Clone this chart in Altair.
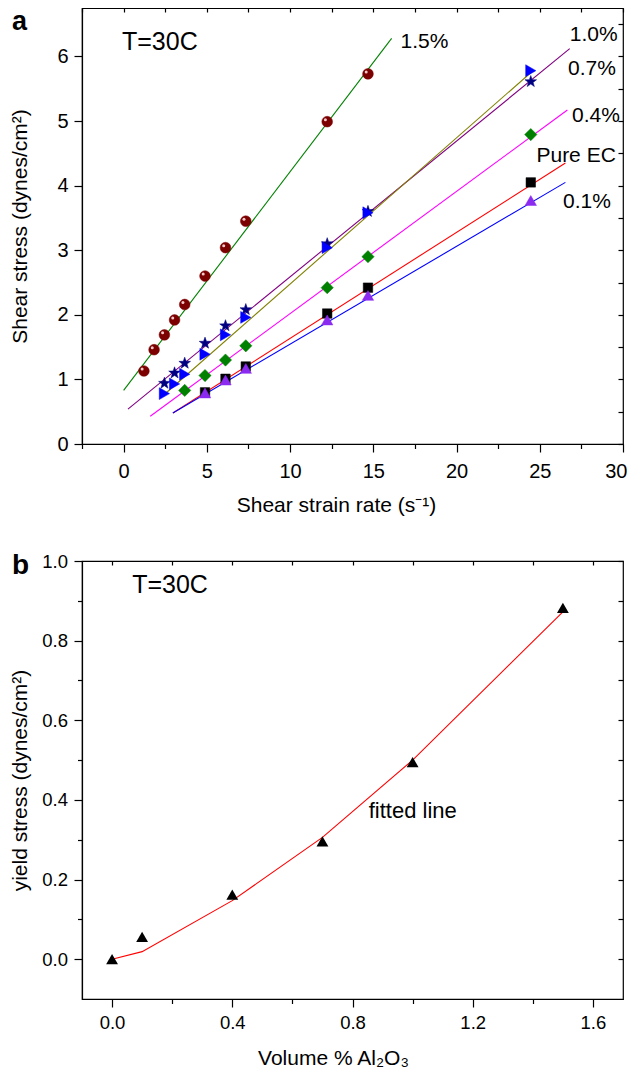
import altair as alt
import pandas as pd

FONT = "Liberation Sans"

# ---------------- panel a data ----------------
series = ["1.5%", "1.0%", "0.7%", "0.4%", "Pure EC", "0.1%"]

rate_15 = [1.22, 1.83, 2.45, 3.06, 3.67, 4.89, 6.12, 7.34, 12.23, 14.68]
stress_15 = [1.13, 1.46, 1.69, 1.92, 2.16, 2.60, 3.04, 3.45, 4.99, 5.73]
rate_10 = [2.45, 3.06, 3.67, 4.89, 6.12, 7.34, 12.23, 14.68, 24.46]
stress_10 = [0.94, 1.10, 1.25, 1.56, 1.83, 2.08, 3.10, 3.60, 5.61]
rate_07 = [2.45, 3.06, 3.67, 4.89, 6.12, 7.34, 12.23, 14.68, 24.46]
stress_07 = [0.78, 0.93, 1.08, 1.39, 1.69, 1.96, 3.04, 3.58, 5.78]
rate_04 = [3.67, 4.89, 6.12, 7.34, 12.23, 14.68, 24.46]
stress_04 = [0.83, 1.06, 1.30, 1.52, 2.42, 2.90, 4.79]
rate_00 = [4.89, 6.12, 7.34, 12.23, 14.68, 24.46]
stress_00 = [0.80, 1.01, 1.20, 2.02, 2.42, 4.05]
rate_01 = [4.89, 6.12, 7.34, 12.23, 14.68, 24.46]
stress_01 = [0.79, 0.99, 1.17, 1.92, 2.30, 3.77]

# fitted straight lines (end points)
fit_x0 = [0.0, 0.26, 2.46, 1.60, 2.96, 2.96]
fit_y0 = [0.83, 0.54, 0.77, 0.43, 0.48, 0.48]
fit_x1 = [16.1, 26.8, 24.64, 26.66, 26.54, 26.54]
fit_y1 = [6.28, 6.12, 5.79, 5.17, 4.35, 4.05]

# series labels
label_x = [16.64, 26.8, 26.7, 26.94, 24.8, 26.4]
label_y = [6.22, 6.33, 5.80, 5.08, 4.46, 3.74]

xa_ticks = [-2.5, 0, 2.5, 5, 7.5, 10, 12.5, 15, 17.5, 20, 22.5, 25, 27.5, 30]
ya_ticks = [0, 0.5, 1, 1.5, 2, 2.5, 3, 3.5, 4, 4.5, 5, 5.5, 6, 6.5]

# ---------------- panel b data ----------------
vol = [0.0, 0.1, 0.4, 0.7, 1.0, 1.5]
yield_obs = [0.0, 0.056, 0.162, 0.296, 0.495, 0.882]
yield_fit = [0.0, 0.019, 0.147, 0.306, 0.500, 0.872]

xb_ticks = [0.0, 0.2, 0.4, 0.6, 0.8, 1.0, 1.2, 1.4, 1.6]
yb_ticks = [0.0, 0.1, 0.2, 0.3, 0.4, 0.5, 0.6, 0.7, 0.8, 0.9, 1.0]

# ---------------- styles ----------------
line_colors = ["#008000", "#800080", "#808000", "#FF00FF", "#FF0000", "#0000FF"]
STAR = ("M0,-1L0.235,-0.324L0.951,-0.309L0.380,0.124L0.588,0.809L0,0.4"
        "L-0.588,0.809L-0.380,0.124L-0.951,-0.309L-0.235,-0.324Z")
marker_style = {
    "1.5%": ("circle", "#7c0000", 115),
    "1.0%": (STAR, "#000080", 150),
    "0.7%": ("triangle-right", "#0000FF", 140),
    "0.4%": ("diamond", "#008000", 150),
    "Pure EC": ("square", "#000000", 90),
    "0.1%": ("triangle-up", "#8B2BF0", 130),
}

W = 541
HA = 436
HB = 438

point_sets = [
    ("1.5%", rate_15, stress_15),
    ("1.0%", rate_10, stress_10),
    ("0.7%", rate_07, stress_07),
    ("0.4%", rate_04, stress_04),
    ("Pure EC", rate_00, stress_00),
    ("0.1%", rate_01, stress_01),
]

df_fit = pd.DataFrame({
    "series": series * 2,
    "x": fit_x0 + fit_x1,
    "y": fit_y0 + fit_y1,
})
df_lab = pd.DataFrame({"text": series, "x": label_x, "y": label_y})


def main_axis(values, label_test, minor_test, fmt, title, label_size, label_pad,
              title_x, title_y, vertical, flush=False):
    kw = dict(
        values=values, format=fmt,
        labelExpr=f"({label_test}) ? datum.label : ''",
        tickSize={"condition": {"test": minor_test, "value": 4.5}, "value": 8},
        tickColor="black", tickWidth=1.2,
        domainColor="black", domainWidth=1.2,
        labelFont=FONT, labelFontSize=label_size, labelColor="black",
        labelPadding=label_pad, labelFlush=flush, labelOverlap=False,
        grid=False, title=title, titleFont=FONT, titleFontSize=21,
        titleFontWeight="normal", titleColor="black",
        titleX=title_x, titleY=title_y, titleAlign="center",
        titleBaseline="alphabetic", minExtent=0,
    )
    if flush:
        kw["labelFlushOffset"] = 4
    if vertical:
        kw["titleAngle"] = 270
    return alt.Axis(**kw)


def mirror_axis(values, orient, size):
    return alt.Axis(orient=orient, values=values, labels=False, domain=False,
                    tickSize=size, offset=-size, title=None, grid=False,
                    tickColor="black", tickWidth=1.2, minExtent=0, maxExtent=size)


# ---------------- panel a ----------------
xa = alt.Scale(domain=[-2.5, 30], nice=False, zero=False)
ya = alt.Scale(domain=[0, 6.75], nice=False, zero=False)
ax_xa = main_axis(xa_ticks, "datum.value % 5 === 0", "datum.value % 5 !== 0", "d",
                  "Shear strain rate (s\u207b\u00b9)", 20, 9, 254, 67, False, flush=True)
ax_ya = main_axis(ya_ticks, "datum.value % 1 === 0", "datum.value % 1 !== 0", "d",
                  "Shear stress (dynes/cm\u00b2)", 20, 6, -56, HA / 2, True)


def enc_a(chart):
    return chart.encode(
        x=alt.X("x:Q", scale=xa, axis=ax_xa),
        y=alt.Y("y:Q", scale=ya, axis=ax_ya),
    )


layers_a = []
layers_a.append(enc_a(alt.Chart(df_fit).mark_line(strokeWidth=1.1)).encode(
    color=alt.Color("series:N", scale=alt.Scale(domain=series, range=line_colors),
                    legend=None),
    detail="series:N",
))
for name, xs, ys in point_sets:
    shape, col, size = marker_style[name]
    dfp = pd.DataFrame({"x": xs, "y": ys})
    layers_a.append(enc_a(alt.Chart(dfp).mark_point(
        shape=shape, filled=True, color=col, size=size, opacity=1,
        stroke=col, strokeWidth=0.5)))
    if name == "1.5%":
        layers_a.append(enc_a(alt.Chart(dfp).mark_point(
            shape="circle", filled=True, color="#f0c8c8", size=9, opacity=1,
            xOffset=-1.8, yOffset=-2)))

layers_a.append(enc_a(alt.Chart(df_lab).mark_text(
    align="left", baseline="middle", font=FONT, fontSize=21, color="black")).encode(
    text="text:N"))
layers_a.append(enc_a(alt.Chart(pd.DataFrame({"x": [-0.1], "y": [6.23], "text": ["T=30C"]}))
                      .mark_text(align="left", baseline="middle", font=FONT,
                                 fontSize=25, color="black")).encode(text="text:N"))
layers_a.append(alt.Chart(pd.DataFrame({"t": ["a"]})).mark_text(
    align="left", baseline="alphabetic", font=FONT, fontSize=27,
    fontWeight="bold", color="black").encode(
    x=alt.value(-70), y=alt.value(22), text="t:N"))

main_a = alt.layer(*layers_a)
mirror_a = alt.Chart(df_fit).mark_point(opacity=0).encode(
    x=alt.X("x:Q", scale=xa, axis=mirror_axis(xa_ticks, "top", 4)),
    y=alt.Y("y:Q", scale=ya, axis=mirror_axis(ya_ticks, "right", 5)),
)
chart_a = alt.layer(main_a, mirror_a).resolve_scale(
    x="independent", y="independent").properties(width=W, height=HA)

# ---------------- panel b ----------------
xb = alt.Scale(domain=[-0.1, 1.7], nice=False, zero=False)
yb = alt.Scale(domain=[-0.1, 1.0], nice=False, zero=False)
ax_xb = main_axis(xb_ticks, "round(datum.value*10) % 4 === 0",
                  "round(datum.value*10) % 4 !== 0", ".1f",
                  "Volume % Al\u2082O\u2083", 18.5, 6, 251, 65, False)
ax_yb = main_axis(yb_ticks, "round(datum.value*10) % 2 === 0",
                  "round(datum.value*10) % 2 !== 0", ".1f",
                  "yield stress (dynes/cm\u00b2)", 18.5, 6.5, -56, HB / 2, True)

df_b = pd.DataFrame({"x": vol, "obs": yield_obs, "fit": yield_fit})


def enc_b(chart, yfield):
    return chart.encode(
        x=alt.X("x:Q", scale=xb, axis=ax_xb),
        y=alt.Y(f"{yfield}:Q", scale=yb, axis=ax_yb),
    )


layers_b = [
    enc_b(alt.Chart(df_b).mark_line(color="#FF0000", strokeWidth=1.1), "fit"),
    enc_b(alt.Chart(df_b).mark_point(shape="triangle-up", filled=True,
                                     color="black", size=140, opacity=1), "obs"),
    enc_b(alt.Chart(pd.DataFrame({"x": [0.067], "y": [0.94], "text": ["T=30C"]}))
          .mark_text(align="left", baseline="middle", font=FONT, fontSize=25,
                     color="black"), "y").encode(text="text:N"),
    enc_b(alt.Chart(pd.DataFrame({"x": [0.854], "y": [0.372], "text": ["fitted line"]}))
          .mark_text(align="left", baseline="middle", font=FONT, fontSize=22,
                     color="black"), "y").encode(text="text:N"),
    alt.Chart(pd.DataFrame({"t": ["b"]})).mark_text(
        align="left", baseline="alphabetic", font=FONT, fontSize=28,
        fontWeight="bold", color="black").encode(
        x=alt.value(-70), y=alt.value(13), text="t:N"),
]
main_b = alt.layer(*layers_b)
mirror_b = alt.Chart(df_b).mark_point(opacity=0).encode(
    x=alt.X("x:Q", scale=xb, axis=mirror_axis(xb_ticks, "top", 4)),
    y=alt.Y("obs:Q", scale=yb, axis=mirror_axis(yb_ticks, "right", 5)),
)
chart_b = alt.layer(main_b, mirror_b).resolve_scale(
    x="independent", y="independent").properties(width=W, height=HB)

chart = alt.vconcat(chart_a, chart_b, spacing=117, bounds="flush").properties(
    padding={"left": 0, "top": -2, "right": 0, "bottom": 0},
    background="white",
).configure_view(stroke="black", strokeWidth=1.2)

chart.save("out.html", embed_options={"renderer": "svg", "actions": False})
